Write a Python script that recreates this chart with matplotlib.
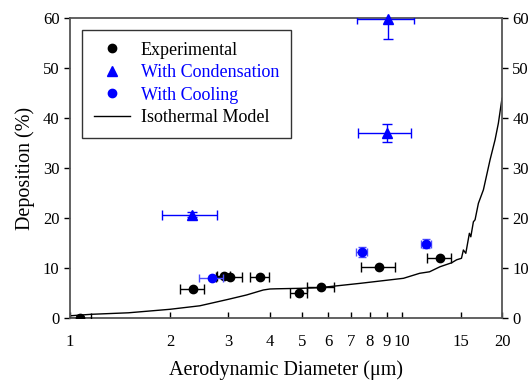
import matplotlib
matplotlib.use("Agg")
import matplotlib.pyplot as plt
from matplotlib.lines import Line2D
from matplotlib.ticker import FixedLocator, FixedFormatter, NullLocator

plt.rcParams['font.family'] = ['Liberation Serif', 'DejaVu Serif']

# Experimental deposition
exp_d = [1.07, 2.34, 2.90, 3.03, 3.73, 4.89, 5.70, 8.54, 13.0]
exp_dep = [0.1, 5.9, 8.5, 8.3, 8.3, 5.1, 6.2, 10.2, 12.0]
exp_derr = [0.09, 0.20, 0.13, 0.27, 0.25, 0.28, 0.54, 1.0, 1.08]

# Runs with condensation
cond_d = [2.33, 9.09, 8.99]
cond_dep = [20.7, 59.8, 37.1]
cond_derr = [0.44, 1.75, 1.62]
cond_deperr = [0.5, 4.0, 1.8]

# Runs with cooling
cool_d = [2.67, 7.56, 11.84]
cool_dep = [8.1, 13.3, 14.9]
cool_derr = [0.22, 0.27, 0.42]
cool_deperr = [0.0, 1.0, 0.9]

# Isothermal model curve
iso_d = [1.0, 1.16, 1.5, 2.0, 2.46, 3.0, 3.4, 3.82, 4.0, 4.18, 5.0, 5.66,
         7.5, 10.1, 11.3, 12.1, 13.0, 14.1, 14.6, 15.1, 15.3, 15.56, 15.95,
         16.11, 16.4, 16.59, 16.98, 17.58, 18.41, 19.06, 19.5, 20.0]
iso_dep = [0.5, 0.8, 1.1, 1.8, 2.5, 3.8, 4.66, 5.66, 5.86, 5.9, 6.0, 6.13,
           7.0, 8.0, 9.0, 9.3, 10.3, 11.1, 11.7, 12.0, 13.66, 13.0, 17.0,
           16.3, 19.3, 19.7, 23.0, 25.7, 31.7, 35.7, 39.0, 44.0]

x_ticks = [1, 2, 3, 4, 5, 6, 7, 8, 9, 10, 15, 20]
y_ticks = [0, 10, 20, 30, 40, 50, 60]

fig = plt.figure(figsize=(5.31, 3.86), dpi=100)
ax = fig.add_axes([0.1318, 0.1754, 0.8136, 0.7772])

ax.plot(iso_d, iso_dep, color='black', lw=1.0, zorder=2)

ax.errorbar(exp_d, exp_dep, xerr=exp_derr, fmt='o', color='black',
            ms=6, elinewidth=1.0, capsize=3.5, capthick=1.0, zorder=3)

# error bars clipped at the frame, triangles allowed to overhang it
ax.errorbar(cond_d, cond_dep, xerr=cond_derr, yerr=cond_deperr, fmt='none',
            ecolor='blue', elinewidth=1.0, capsize=3.5, capthick=1.0, zorder=4)
ax.plot(cond_d, cond_dep, ls='none', marker='^', color='blue', ms=7.5,
        zorder=5, clip_on=False)

ax.errorbar(cool_d, cool_dep, xerr=cool_derr, yerr=cool_deperr, fmt='o',
            color='blue', ms=6, elinewidth=1.0, capsize=3.0, capthick=1.0,
            ecolor=(0.3, 0.3, 1.0), zorder=4)

ax.set_xscale('log')
ax.set_xlim(1, 20)
ax.set_ylim(0, 60)
ax.xaxis.set_major_locator(FixedLocator(x_ticks))
ax.xaxis.set_major_formatter(FixedFormatter([str(t) for t in x_ticks]))
ax.xaxis.set_minor_locator(NullLocator())
ax.set_yticks(y_ticks)

ax.tick_params(axis='x', direction='in', length=4, width=1, labelsize=12,
               pad=11, top=False)
ax.tick_params(axis='y', direction='out', length=4, width=1, labelsize=12,
               left=True, right=True, labelleft=True, labelright=True)
for sp in ax.spines.values():
    sp.set_color('#555555')
    sp.set_linewidth(1.3)

ax.set_xlabel('Aerodynamic Diameter (μm)', fontsize=14.5, labelpad=8)
ax.set_ylabel('Deposition (%)', fontsize=14.5, labelpad=6)

handles = [
    Line2D([], [], ls='none', marker='o', color='black', ms=6),
    Line2D([], [], ls='none', marker='^', color='blue', ms=7.5),
    Line2D([], [], ls='none', marker='o', color='blue', ms=6),
    Line2D([], [], color='black', lw=1.0),
]
labels = ['Experimental', 'With Condensation', 'With Cooling', 'Isothermal Model']
leg = ax.legend(handles, labels, loc='upper left',
                bbox_to_anchor=(0.0285, 0.961), borderaxespad=0,
                fontsize=13, frameon=True, fancybox=False, handlelength=2.0,
                handletextpad=0.6, labelspacing=0.3, borderpad=0.65)
leg.get_frame().set_edgecolor('black')
leg.get_frame().set_linewidth(1.0)
for txt, col in zip(leg.get_texts(), ['black', 'blue', 'blue', 'black']):
    txt.set_color(col)

fig.savefig('out.png', dpi=100)
